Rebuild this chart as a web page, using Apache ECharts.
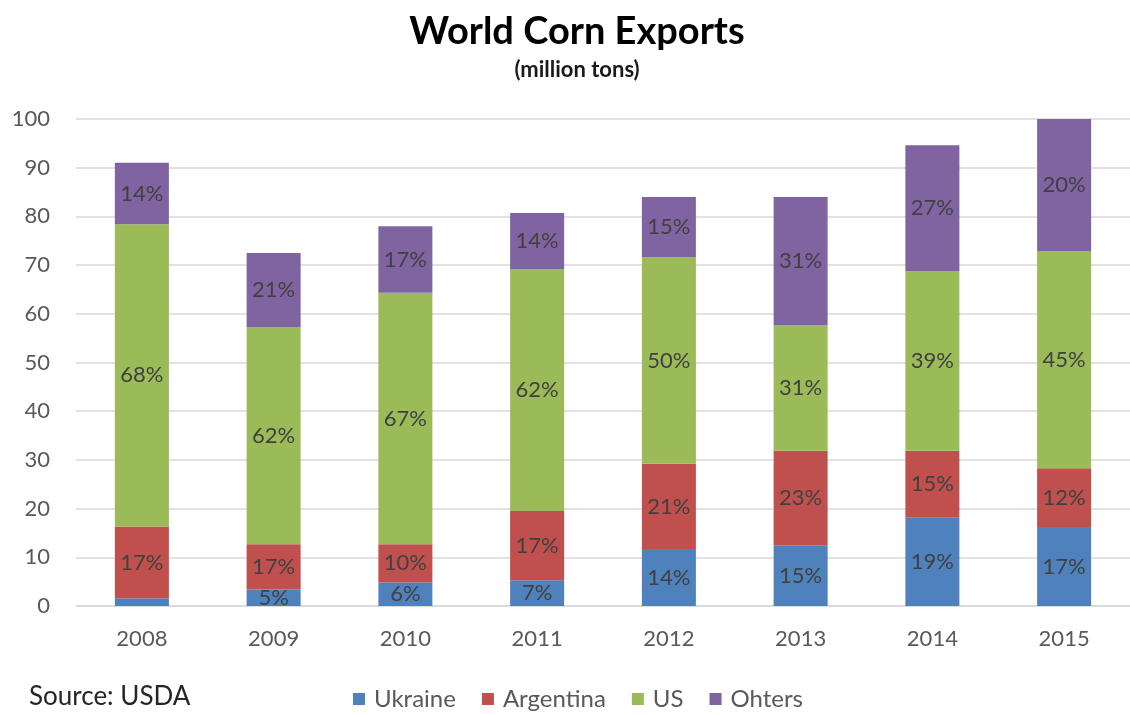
<!DOCTYPE html>
<html>
<head>
<meta charset="utf-8">
<title>World Corn Exports</title>
<script src="https://cdn.jsdelivr.net/npm/echarts@6/dist/echarts.min.js"></script>
<style>
  html, body { margin: 0; padding: 0; background: #ffffff; }
  #chart { width: 1130px; height: 715px; }
</style>
</head>
<body>
<div id="chart"></div>
<script>
// Marketing years
const years = ['2008', '2009', '2010', '2011', '2012', '2013', '2014', '2015'];

// Exports by origin, million tons
const ukraine   = [1.6, 3.4, 4.8, 5.3, 11.7, 12.5, 18.1, 16.2];
const argentina = [14.7, 9.3, 7.9, 14.2, 17.5, 19.4, 13.8, 12.1];
const us        = [62.1, 44.6, 51.6, 49.7, 42.4, 25.8, 36.9, 44.6];
const others    = [12.6, 15.2, 13.7, 11.5, 12.4, 26.3, 25.8, 27.1];

// Share of world exports printed on each segment, percent (null = not printed)
const ukraineShare   = [null, 5, 6, 7, 14, 15, 19, 17];
const argentinaShare = [17, 17, 10, 17, 21, 23, 15, 12];
const usShare        = [68, 62, 67, 62, 50, 31, 39, 45];
const othersShare    = [14, 21, 17, 14, 15, 31, 27, 20];

// Value axis ticks
const yTicks = [0, 10, 20, 30, 40, 50, 60, 70, 80, 90, 100];

const FONT = 'Lato, "Open Sans", sans-serif';

function stackSeries(name, values, shares, color) {
  return {
    name: name,
    type: 'bar',
    stack: 'total',
    barWidth: '41%',
    data: values,
    itemStyle: { color: color },
    label: {
      show: true,
      position: 'inside',
      fontFamily: FONT,
      fontSize: 22,
      color: '#404040',
      formatter: function (p) {
        const s = shares[p.dataIndex];
        return s == null ? '' : s + '%';
      }
    }
  };
}

const chart = echarts.init(document.getElementById('chart'), null, { renderer: 'canvas' });

chart.setOption({
  animation: false,
  backgroundColor: '#ffffff',
  textStyle: { fontFamily: FONT },
  title: {
    text: 'World Corn Exports',
    subtext: '(million tons)',
    left: 572,
    top: 8,
    textAlign: 'center',
    itemGap: 8,
    textStyle: { fontFamily: FONT, fontWeight: 'bold', fontSize: 38, color: '#000000' },
    subtextStyle: { fontFamily: FONT, fontWeight: 'bold', fontSize: 22, color: '#1a1a1a' }
  },
  legend: {
    left: 348,
    top: 682,
    itemWidth: 12,
    itemHeight: 12,
    itemGap: 26,
    icon: 'rect',
    textStyle: { fontFamily: FONT, fontSize: 24, color: '#595959', padding: [0, 0, 0, 4] },
    data: ['Ukraine', 'Argentina', 'US', 'Ohters']
  },
  graphic: [{
    type: 'text',
    left: 29,
    top: 684,
    style: { text: 'Source: USDA', font: '26px ' + FONT, fill: '#262626' }
  }],
  grid: { left: 76, right: 0, top: 119, bottom: 109 },
  xAxis: {
    type: 'category',
    data: years,
    axisTick: { show: false },
    axisLine: { lineStyle: { color: '#d9d9d9', width: 1.5 } },
    axisLabel: { fontFamily: FONT, fontSize: 22, color: '#595959', margin: 22 }
  },
  yAxis: {
    type: 'value',
    min: yTicks[0],
    max: yTicks[yTicks.length - 1],
    interval: yTicks[1] - yTicks[0],
    axisLine: { show: false },
    axisTick: { show: false },
    splitLine: { lineStyle: { color: '#d9d9d9', width: 1.5 } },
    axisLabel: { fontFamily: FONT, fontSize: 22, color: '#595959', margin: 26 }
  },
  series: [
    stackSeries('Ukraine', ukraine, ukraineShare, '#4f81bd'),
    stackSeries('Argentina', argentina, argentinaShare, '#c0504d'),
    stackSeries('US', us, usShare, '#9bbb59'),
    stackSeries('Ohters', others, othersShare, '#8064a2')
  ]
});
</script>
</body>
</html>
